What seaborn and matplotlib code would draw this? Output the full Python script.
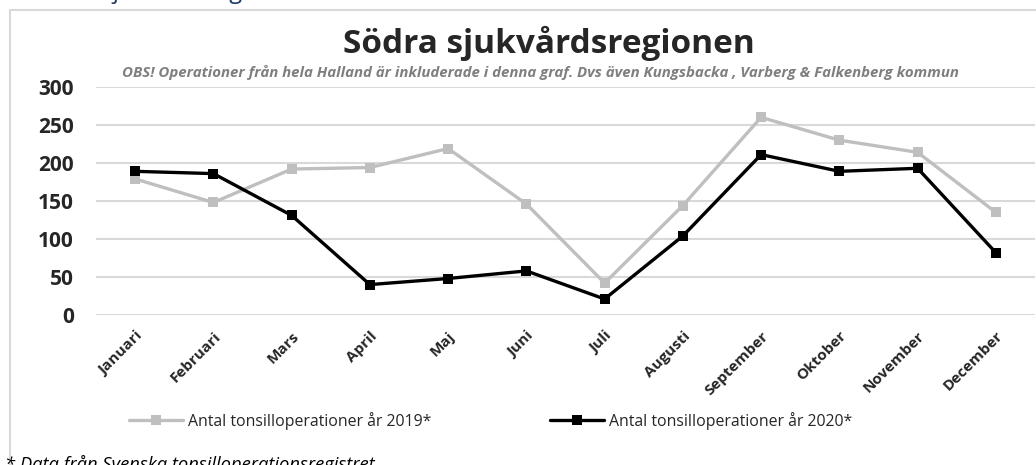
import pandas as pd
import seaborn as sns
import matplotlib.pyplot as plt
from matplotlib.patches import Rectangle

months = ["Januari", "Februari", "Mars", "April", "Maj", "Juni",
          "Juli", "Augusti", "September", "Oktober", "November", "December"]
ops_2019 = [179, 148, 192, 194, 219, 146, 42, 144, 260, 230, 214, 135]
ops_2020 = [189, 186, 131, 40, 48, 58, 21, 104, 211, 189, 193, 82]
series_names = ["Antal tonsilloperationer år 2019*", "Antal tonsilloperationer år 2020*"]
yticks = [0, 50, 100, 150, 200, 250, 300]

df = pd.DataFrame({
    "month": months * 2,
    "value": ops_2019 + ops_2020,
    "serie": [series_names[0]] * 12 + [series_names[1]] * 12,
})

sns.set_style("white")
plt.rcParams['font.family'] = ['Open Sans', 'DejaVu Sans']

fig = plt.figure(figsize=(10.36, 4.65), dpi=100)
ax = fig.add_axes([0.0927, 0.3226, 0.9063, 0.4904])

sns.lineplot(data=df, x="month", y="value", hue="serie", style="serie",
             palette=["#BFBFBF", "#000000"], markers=["s", "s"], dashes=False,
             linewidth=2.4, markersize=6.5, markeredgewidth=0, sort=False, ax=ax)

ax.set_xlim(-0.5, 11.5)
ax.set_ylim(0, 300)
ax.set_yticks(yticks)
ax.set_yticklabels([str(t) for t in yticks], fontsize=15, fontweight="bold")
ax.set_xticks(range(12))
ax.set_xticklabels(months, rotation=45, ha="right", rotation_mode="anchor",
                   fontsize=11, fontweight="bold")
ax.tick_params(axis="x", length=0, pad=10)
ax.tick_params(axis="y", length=0, pad=16)
ax.set_xlabel("")
ax.set_ylabel("")
ax.yaxis.grid(True, color="#D9D9D9", linewidth=1.5)
ax.set_axisbelow(True)
for s in ax.spines.values():
    s.set_visible(False)

ax.legend(loc="center", bbox_to_anchor=(0.42, -0.465), ncol=2, frameon=False,
          fontsize=11.4, handlelength=3.4, columnspacing=7.5, handletextpad=0.32)

# frame around chart
fig.patches.append(Rectangle((10 / 1036, -0.1), 1.2, 1 - 10 / 465 + 0.1,
                             transform=fig.transFigure, fill=False,
                             edgecolor="#D9D9D9", linewidth=1.5))

fig.text(0.53, 1 - 43 / 465, "Södra sjukvårdsregionen", ha="center", va="center",
         fontsize=24, fontweight="bold")
fig.text(0.522, 1 - 72 / 465,
         "OBS! Operationer från hela Halland är inkluderade i denna graf. Dvs även Kungsbacka , Varberg & Falkenberg kommun",
         ha="center", va="center", fontsize=10.8, fontweight="bold", style="italic", color="#7F7F7F")
fig.text(0.005, 1 - 470 / 465, "* Data från Svenska tonsilloperationsregistret",
         ha="left", va="baseline", fontsize=13.2, style="italic", color="#000000")
fig.text(0.03, 1 + 2 / 465, "Södra sjukvårdsregionen", ha="left", va="baseline",
         fontsize=17, color="#1F3864")

fig.savefig("out.png", dpi=100)
